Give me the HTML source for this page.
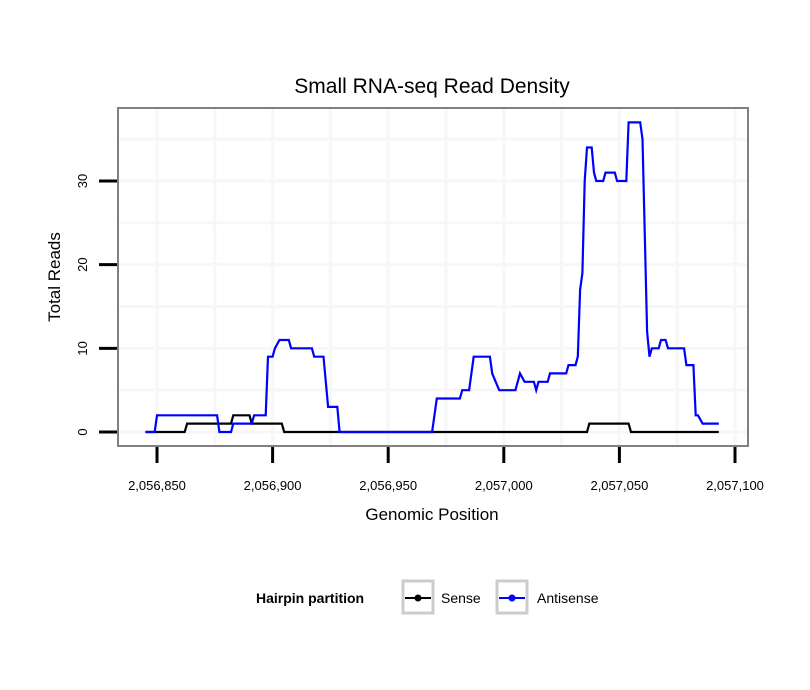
<!DOCTYPE html>
<html><head><meta charset="utf-8"><style>
body{margin:0;background:#fff;}
svg{display:block;font-family:"Liberation Sans",sans-serif;}
</style></head><body>
<svg id="chart" width="810" height="690" viewBox="0 0 810 690">
<rect x="0" y="0" width="810" height="690" fill="#fff"/>
<text x="432" y="93" font-size="21" text-anchor="middle">Small RNA-seq Read Density</text>
<rect x="118" y="108" width="630" height="338" fill="#fff"/>
<g id="grid"></g>
<g id="series"></g>
<rect x="118" y="108" width="630" height="338" fill="none" stroke="#808080" stroke-width="2"/>
<g id="axes"></g>
<text x="432" y="520" font-size="17" text-anchor="middle">Genomic Position</text>
<text transform="translate(60,277) rotate(-90)" font-size="17" text-anchor="middle">Total Reads</text>
<g>
<text x="256" y="603" font-size="14" font-weight="bold">Hairpin partition</text>
<g>
<rect x="403" y="581" width="30" height="32" fill="#fff" stroke="#cccccc" stroke-width="3"/>
<line x1="405" y1="598" x2="431" y2="598" stroke="#000" stroke-width="2"/>
<circle cx="418" cy="598" r="3.5" fill="#000"/>
<text x="441" y="603" font-size="14">Sense</text>
</g>
<g>
<rect x="497" y="581" width="30" height="32" fill="#fff" stroke="#cccccc" stroke-width="3"/>
<line x1="499" y1="598" x2="525" y2="598" stroke="#0000ff" stroke-width="2"/>
<circle cx="512" cy="598" r="3.5" fill="#0000ff"/>
<text x="537" y="603" font-size="14">Antisense</text>
</g>
</g>
</svg>
<script>
const xTicks = [2056850, 2056900, 2056950, 2057000, 2057050, 2057100];
const xTickLabels = ["2,056,850", "2,056,900", "2,056,950", "2,057,000", "2,057,050", "2,057,100"];
const yTicks = [0, 10, 20, 30];
const yTickLabels = ["0", "10", "20", "30"];
const antisensePos = [2056845,2056849,2056850,2056876,2056877,2056882,2056883,2056891,2056892,2056897,2056898,2056900,2056901,2056903,2056907,2056908,2056917,2056918,2056922,2056924,2056928,2056929,2056969,2056971,2056981,2056982,2056985,2056987,2056994,2056995,2056998,2057005,2057007,2057009,2057013,2057014,2057015,2057019,2057020,2057027,2057028,2057031,2057032,2057033,2057034,2057035,2057036,2057038,2057039,2057040,2057043,2057044,2057048,2057049,2057053,2057054,2057059,2057060,2057062,2057063,2057064,2057067,2057068,2057070,2057071,2057078,2057079,2057082,2057083,2057084,2057086,2057093];
const antisenseVal = [0,0,2,2,0,0,1,1,2,2,9,9,10,11,11,10,10,9,9,3,3,0,0,4,4,5,5,9,9,7,5,5,7,6,6,5,6,6,7,7,8,8,9,17,19,30,34,34,31,30,30,31,31,30,30,37,37,35,12,9,10,10,11,11,10,10,8,8,2,2,1,1];
const sensePos = [2056845,2056862,2056863,2056882,2056883,2056890,2056891,2056904,2056905,2057036,2057037,2057054,2057055,2057093];
const senseVal = [0,0,1,1,2,2,1,1,0,0,1,1,0,0];

const NS = "http://www.w3.org/2000/svg";
function xs(v){ return 157 + (v - 2056850) * (578 / 250); }
function ys(v){ return 432 - v * (251 / 30); }
function mk(tag, attrs, parent){
  const e = document.createElementNS(NS, tag);
  for (const k in attrs) e.setAttribute(k, attrs[k]);
  parent.appendChild(e);
  return e;
}
const grid = document.getElementById("grid");
const axes = document.getElementById("axes");
const series = document.getElementById("series");
const gx = [];
for (let i = 0; i < xTicks.length; i++) { gx.push(xTicks[i]); if (i < xTicks.length - 1) gx.push((xTicks[i] + xTicks[i+1]) / 2); }
gx.push(xTicks[0] - 25);
gx.forEach(v => {
  const x = xs(v);
  if (x < 119 || x > 747) return;
  const l = mk("line", {x1:x, x2:x, y1:109, y2:445, stroke:"#f7f7f7", "stroke-width":3}, grid);
  
  
});
const gy = [];
for (let i = 0; i < yTicks.length; i++) { gy.push(yTicks[i]); gy.push(yTicks[i] + 5); }
gy.forEach(v => {
  const y = ys(v);
  if (y < 109 || y > 445) return;
  const l = mk("line", {x1:119, x2:747, y1:y, y2:y, stroke:"#f7f7f7", "stroke-width":3}, grid);
  
  
});
xTicks.forEach((v, i) => {
  const x = xs(v);
  const t = mk("line", {x1:x, x2:x, y1:447, y2:463, stroke:"#000", "stroke-width":3}, axes);
  
  
  const lb = mk("text", {x:x, y:490, "font-size":13, "text-anchor":"middle"}, axes);
  lb.textContent = xTickLabels[i];
  
  
});
yTicks.forEach((v, i) => {
  const y = ys(v);
  const t = mk("line", {x1:99, x2:117, y1:y, y2:y, stroke:"#000", "stroke-width":3}, axes);
  
  
  const lb = mk("text", {"font-size":13, "text-anchor":"middle", transform:"translate(87," + y + ") rotate(-90)"}, axes);
  lb.textContent = yTickLabels[i];
  
  
});
function pts(p, v){ return p.map((x, i) => xs(x).toFixed(1) + "," + ys(v[i]).toFixed(1)).join(" "); }
const s1 = mk("polyline", {points:pts(sensePos, senseVal), fill:"none", stroke:"#000", "stroke-width":2.2}, series);


const s2 = mk("polyline", {points:pts(antisensePos, antisenseVal), fill:"none", stroke:"#0000ff", "stroke-width":2.2}, series);


</script>
</body></html>
